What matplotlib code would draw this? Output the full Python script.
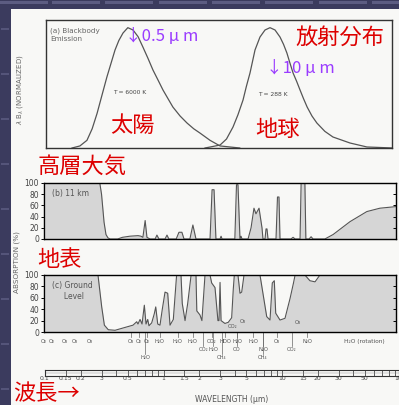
import matplotlib.pyplot as plt
from matplotlib.patches import Rectangle

W, H = 399, 405

# (a) normalized blackbody emission
sun_lam = [0.169, 0.197, 0.226, 0.25, 0.275, 0.30, 0.333, 0.39, 0.42, 0.455,
           0.50, 0.553, 0.61, 0.67, 0.74, 0.815, 0.90, 0.99, 1.1, 1.20,
           1.38, 1.58, 1.8, 2.03, 2.47, 3.0, 4.4]
sun_val = [0.0, 0.016, 0.06, 0.15, 0.27, 0.40, 0.555, 0.766, 0.84, 0.898,
           0.94, 0.922, 0.87, 0.789, 0.70, 0.609, 0.53, 0.453, 0.38, 0.32,
           0.25, 0.195, 0.15, 0.117, 0.06, 0.016, 0.0]
earth_lam = [2.24, 3.0, 3.4, 3.86, 4.25, 4.69, 5.0, 5.37, 5.92, 6.52,
             7.19, 7.92, 8.73, 9.62, 10.3, 11.0, 11.7, 12.4, 13.3, 14.2,
             15.2, 16.3, 17.9, 19.7, 23, 26.9, 37.5, 52.1, 86.5]
earth_val = [0.0, 0.023, 0.07, 0.164, 0.26, 0.375, 0.48, 0.586, 0.766, 0.867,
             0.922, 0.94, 0.922, 0.867, 0.81, 0.742, 0.66, 0.586, 0.52, 0.453,
             0.385, 0.32, 0.25, 0.195, 0.13, 0.086, 0.039, 0.008, 0.0]

# (b) absorption at 11 km (%)
lam_b = [0.1, 0.29, 0.30, 0.315, 0.327, 0.34, 0.354, 0.41, 0.45, 0.52,
         0.61, 0.645, 0.67, 0.70, 0.725, 0.77, 0.85, 0.88, 0.915, 1.03,
         1.07, 1.11, 1.28, 1.35, 1.43, 1.49, 1.67, 1.77, 1.88, 2.47,
         2.57, 2.67, 2.77, 3.0, 3.06, 3.12, 4.0, 4.13, 4.25, 4.42,
         4.51, 4.6, 5.17, 5.48, 5.8, 6.03, 6.4, 6.78, 6.91, 7.19,
         7.33, 7.47, 7.62, 8.9, 9.16, 9.43, 9.62, 11.9, 12.4, 12.9,
         14.2, 14.5, 15.6, 15.9, 16.9, 17.6, 18.3, 23, 27, 37.5,
         52, 67, 93]
abs_b = [100, 100, 80, 30, 8, 2, 0, 0, 3, 5,
         6, 5, 3, 33, 3, 0, 0, 7, 0, 0,
         7, 0, 0, 12, 12, 0, 0, 25, 0, 0,
         88, 88, 0, 0, 5, 0, 0, 97, 97, 0,
         5, 0, 0, 20, 55, 45, 55, 20, 0, 0,
         18, 18, 0, 0, 75, 75, 0, 0, 3, 0,
         0, 100, 100, 0, 0, 4, 0, 0, 8, 31,
         49, 55, 58]

# (c) absorption at ground level (%)
lam_c = [0.1, 0.28, 0.301, 0.317, 0.342, 0.39, 0.473, 0.553, 0.594, 0.609,
         0.634, 0.659, 0.689, 0.712, 0.736, 0.754, 0.795, 0.836, 0.86, 0.894,
         0.934, 0.977, 1.03, 1.085, 1.135, 1.21, 1.29, 1.405, 1.44, 1.52,
         1.60, 1.71, 1.88, 1.91, 2.03, 2.11, 2.24, 2.47, 2.55, 2.72,
         2.88, 2.94, 3.0, 3.06, 3.30, 3.52, 3.76, 3.88, 3.96, 4.25,
         4.42, 4.57, 4.78, 6.52, 7.43, 7.92, 8.28, 8.61, 8.85, 9.62,
         10.6, 11.7, 12.5, 12.9, 15.6, 17.2, 19.0, 20.9, 100]
abs_c = [100, 100, 44, 12, 4, 3, 8, 12, 18, 14,
         22, 14, 47, 14, 22, 11, 16, 32, 44, 14,
         12, 40, 70, 68, 12, 22, 100, 100, 50, 20,
         50, 100, 100, 37, 30, 20, 100, 100, 86, 78,
         20, 20, 87, 20, 15, 17, 25, 75, 100, 100,
         68, 70, 100, 100, 27, 21, 86, 90, 33, 21,
         24, 59, 86, 100, 100, 90, 88, 100, 100]

# molecule labels under panel (c): name, wavelength, row
mol_names = ['O₂', 'O₂', 'O₃', 'O₃', 'O₃', 'O₃', 'O₂', 'O₂', 'H₂O', 'H₂O',
             'H₂O', 'H₂O', 'CO₂', 'CO₂', 'H₂O', 'HDO', 'CH₄', 'H₂O', 'CO',
             'H₂O', 'N₂O', 'CH₄', 'O₃', 'CO₂', 'N₂O']
mol_lam = [0.097, 0.115, 0.147, 0.18, 0.24, 0.53, 0.62, 0.72, 0.70, 0.93,
           1.32, 1.77, 2.16, 2.55, 2.62, 3.3, 3.1, 4.17, 4.17,
           5.69, 6.92, 6.92, 9.07, 12.1, 16.3]
mol_row = [1, 1, 1, 1, 1, 1, 1, 1, 3, 1,
           1, 1, 2, 1, 2, 1, 3, 1, 2,
           1, 2, 3, 1, 2, 1]

scale_vals = [0.1, 0.15, 0.2, 0.3, 0.5, 1, 1.5, 2, 3, 5, 10, 15, 20, 30, 50, 100]
scale_text = ['0.1', '0.15', '0.2', '3', '0.5', '1', '1.5', '2', '3', '5',
              '10', '15', '20', '30', '50', '100']
scale_div = [0.1, 0.15, 0.2, 0.3, 0.4, 0.5, 0.6, 0.7, 0.8, 0.9, 1, 1.5, 2, 3, 4,
             5, 6, 7, 8, 9, 10, 15, 20, 30, 40, 50, 60, 70, 80, 90, 100]

JP = ['Noto Sans CJK JP', 'DejaVu Sans']
RED = '#dd0000'
PURPLE = '#9a3cff'
FILL = '#d6d6d6'


def rect(x0, y0, x1, y1):
    return [x0 / W, 1 - y1 / H, (x1 - x0) / W, (y1 - y0) / H]


def px_lam(px):
    # wavelength scale of the scan: 0.1 um at x=45, 118.5 px per decade
    return 0.1 * 10 ** ((px - 45) / 118.5)


def ftext(x, y, s, **kw):
    fig.text(x / W, 1 - y / H, s, **kw)


fig = plt.figure(figsize=(W / 100, H / 100), dpi=100, facecolor='#3b3b5e')

# slide stripes and the scanned page (behind the axes)
for x0 in [0, 52, 105, 159, 212, 265, 319, 372]:
    fig.add_artist(Rectangle((x0 / W, 1 - 4 / H), 48 / W, 3 / H, zorder=-5,
                             transform=fig.transFigure, fc='#5c5c82', ec='none'))
for y0 in [30, 75, 120, 165, 210, 255, 300, 345, 390]:
    fig.add_artist(Rectangle((1 / W, 1 - y0 / H), 8 / W, 2 / H, zorder=-5,
                             transform=fig.transFigure, fc='#55557a', ec='none'))
fig.add_artist(Rectangle((11 / W, 0), 1, 1 - 9 / H, transform=fig.transFigure,
                         fc='#f8f8f6', ec='none', zorder=-4))

# (a) blackbody emission
ax_a = fig.add_axes(rect(46, 20, 392, 148))
ax_a.set_xscale('log')
ax_a.set_xlim(px_lam(46), px_lam(392))
ax_a.set_ylim(0, 1)
ax_a.plot(sun_lam, sun_val, color='#555555', lw=0.9)
ax_a.plot(earth_lam, earth_val, color='#555555', lw=0.9)
ax_a.set_xticks([])
ax_a.set_yticks([])
ax_a.minorticks_off()
ax_a.patch.set_alpha(0)
for s in ax_a.spines.values():
    s.set_color('#333333')
    s.set_linewidth(1.0)

ftext(50, 28, '(a) Blackbody\nEmission', fontsize=5.2, color='#666666',
      va='top', linespacing=1.3)
ftext(130, 93, 'T = 6000 K', fontsize=4.3, color='#444444', ha='center', va='center')
ftext(273, 95, 'T = 288 K', fontsize=4.3, color='#444444', ha='center', va='center')
ftext(20, 90, r'$\lambda$ B$_\lambda$ (NORMALIZED)', fontsize=5, color='#666666',
      rotation=90, ha='center', va='center')


def absorption_panel(box, lam, vals, label, label_y):
    ax = fig.add_axes(rect(*box))
    ax.set_xscale('log')
    ax.set_xlim(px_lam(box[0]), px_lam(box[2]))
    ax.set_ylim(0, 100)
    ax.fill_between(lam, vals, 0, color=FILL, lw=0)
    ax.plot(lam, vals, color='#555555', lw=0.8)
    ax.set_xticks([])
    ax.minorticks_off()
    ax.set_yticks([0, 20, 40, 60, 80, 100])
    ax.tick_params(axis='y', labelsize=5.5, labelcolor='#444444', length=2.5,
                   width=0.7, pad=1)
    ax.patch.set_alpha(0)
    for s in ax.spines.values():
        s.set_color('#333333')
        s.set_linewidth(1.0)
    ax2 = ax.twinx()
    ax2.set_ylim(0, 100)
    ax2.set_yticks([20, 40, 60, 80])
    ax2.tick_params(axis='y', direction='in', length=2.5, width=0.7, labelright=False)
    ax.text(px_lam(box[0] + 8), label_y, label, fontsize=5.5, color='#555555',
            va='center', linespacing=1.3)
    return ax


ax_b = absorption_panel((44, 183, 396, 239), lam_b, abs_b, '(b) 11 km', 82)
ax_c = absorption_panel((44, 275, 396, 332), lam_c, abs_c, '(c) Ground\n     Level', 72)
ftext(17, 262, 'ABSORPTION (%)', fontsize=5.2, color='#666666', rotation=90,
      ha='center', va='center')

# molecule labels under panel (c)
tr = ax_c.get_xaxis_transform()
row_y = {1: -0.16, 2: -0.31, 3: -0.45}
for name, lam, row in zip(mol_names, mol_lam, mol_row):
    y = row_y[row]
    if lam > 0.3:
        ax_c.plot([lam, lam], [0, y + 0.07], color='#666666', lw=0.5,
                  transform=tr, clip_on=False)
    ax_c.text(lam, y, name, fontsize=3.8, color='#555555', ha='center',
              va='center', transform=tr, clip_on=False)
ax_c.text(50, -0.16, 'H₂O (rotation)', fontsize=4.2, color='#555555',
          ha='center', va='center', transform=tr, clip_on=False)
ax_c.text(3.86, 0.09, 'CO₂', fontsize=3.8, color='#555555', ha='center',
          va='center', transform=tr)
ax_c.text(4.7, 0.18, 'O₃', fontsize=3.8, color='#555555', ha='center',
          va='center', transform=tr)
ax_c.text(13.7, 0.16, 'O₃', fontsize=3.8, color='#555555', ha='center',
          va='center', transform=tr)

# wavelength ruler
ax_r = fig.add_axes(rect(45, 370, 399, 376))
ax_r.set_xscale('log')
ax_r.set_xlim(px_lam(45), px_lam(399))
ax_r.set_ylim(0, 1)
ax_r.vlines(scale_div, 0, 1, color='#444444', lw=0.6)
ax_r.axhline(0.5, color='#888888', lw=0.3)
ax_r.set_xticks([])
ax_r.set_yticks([])
ax_r.minorticks_off()
ax_r.patch.set_alpha(0)
for s in ax_r.spines.values():
    s.set_color('#333333')
    s.set_linewidth(0.8)
for v, t in zip(scale_vals, scale_text):
    ax_r.text(v, -0.5, t, fontsize=4.4, color='#444444', ha='center', va='center',
              transform=ax_r.get_xaxis_transform(), clip_on=False, zorder=5)
ftext(232, 400, 'WAVELENGTH (μm)', fontsize=5.5, color='#555555',
      ha='center', va='center')

# slide annotations
ftext(340, 37, '放射分布', fontsize=16, color=RED, family=JP, ha='center', va='center')
ftext(132, 126, '太陽', fontsize=16, color=RED, family=JP, ha='center', va='center')
ftext(277, 129, '地球', fontsize=16, color=RED, family=JP, ha='center', va='center')
ftext(82, 166, '高層大気', fontsize=16, color=RED, family=JP, ha='center', va='center')
ftext(60, 260, '地表', fontsize=16, color=RED, family=JP, ha='center', va='center')
ftext(47, 394, '波長→', fontsize=16, color=RED, family=JP, ha='center', va='center')
ftext(125, 36, '↓0.5 μ m', fontsize=12, color=PURPLE, family=JP, ha='left', va='center')
ftext(266, 69, '↓10 μ m', fontsize=12, color=PURPLE, family=JP, ha='left', va='center')

fig.savefig('out.png', dpi=100, facecolor=fig.get_facecolor())
